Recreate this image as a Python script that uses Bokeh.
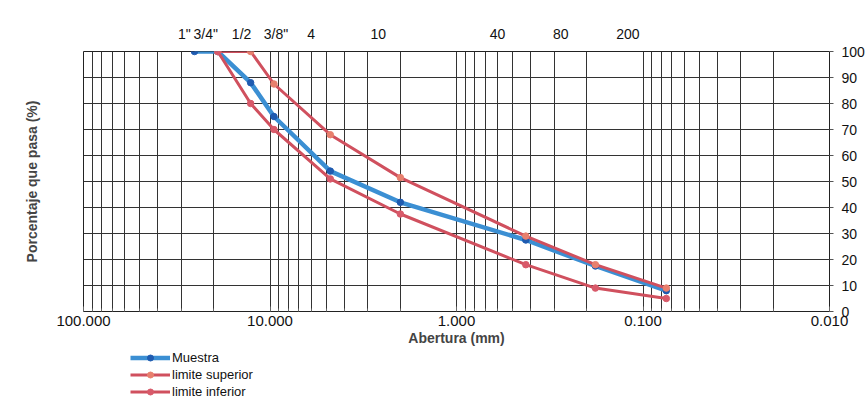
from bokeh.plotting import figure
from bokeh.layouts import column
from bokeh.models import (Range1d, LogAxis, LinearAxis, FixedTicker, PrintfTickFormatter,
                          CustomJSTickFormatter, Legend, LegendItem)
from bokeh.embed import file_html
from bokeh.resources import INLINE

# ---- data ----
aberturas = [25.4, 19.05, 12.7, 9.525, 4.75, 2.0, 0.425, 0.18, 0.075]
muestra = [100, 100, 88, 75, 54, 42, 27.5, 17.5, 8]
lim_x = [19.05, 12.7, 9.525, 4.75, 2.0, 0.425, 0.18, 0.075]
lim_sup = [100, 100, 87.5, 68, 51.5, 29, 18, 9]
lim_inf = [100, 80, 70, 51, 37.5, 18, 9, 5]

x_ticks = [100, 10, 1, 0.1, 0.01]
x_minor = [m * 10.0 ** e for e in range(-2, 2) for m in range(2, 10)]
y_ticks = [0, 10, 20, 30, 40, 50, 60, 70, 80, 90, 100]
tamiz_labels = ['1"', '3/4"', '1/2', '3/8"', '4', '10', '40', '80', '200']
tamiz_pos = [28.8, 22.1, 14.2, 9.29, 6.02, 2.63, 0.602, 0.276, 0.1205]
series_names = ["Muestra", "limite superior", "limite inferior"]

FONT = "Liberation Sans"
BLUE_LINE = "#3B8FD3"
BLUE_MARK = "#1F5BB0"
RED_LINE = "#D0505E"
RED_MARK_SUP = "#E8806E"
RED_MARK_INF = "#D85A6A"

W = 867
p = figure(width=W, height=348, x_axis_type="log",
           x_range=Range1d(100, 0.01), y_range=Range1d(0, 100),
           y_axis_location="right", output_backend="svg", toolbar_location=None,
           min_border_left=83, min_border_right=38, min_border_top=51,
           min_border_bottom=36)
p.background_fill_color = "white"
p.border_fill_color = "white"
p.outline_line_color = "#222222"
p.outline_line_width = 1

# bottom x axis
xt = FixedTicker(ticks=x_ticks, minor_ticks=x_minor)
xa = p.xaxis[0]
xa.ticker = xt
xa.formatter = PrintfTickFormatter(format="%.3f")
xa.axis_label = "Abertura (mm)"
xa.axis_label_text_font = FONT
xa.axis_label_text_font_style = "bold"
xa.axis_label_text_font_size = "14px"
xa.axis_label_standoff = 1
xa.major_label_text_font = FONT
xa.major_label_text_font_size = "15px"
xa.major_label_text_color = "#111111"
xa.major_label_standoff = 4
xa.axis_line_color = None
xa.major_tick_in = 5
xa.major_tick_out = 0
xa.minor_tick_in = 3
xa.minor_tick_out = 0
xa.major_tick_line_color = "#666666"
xa.minor_tick_line_color = "#666666"

# right y axis
ya = p.yaxis[0]
ya.ticker = FixedTicker(ticks=y_ticks)
ya.major_label_text_font = FONT
ya.major_label_text_font_size = "14px"
ya.major_label_text_color = "#111111"
ya.major_label_standoff = 8
ya.major_tick_out = 4
ya.major_tick_in = 0
ya.major_tick_line_color = "#555555"
ya.axis_line_color = None
ya.minor_tick_line_color = None

# grids
p.xgrid.ticker = xt
p.xgrid.grid_line_color = "#333333"
p.xgrid.grid_line_width = 1
p.xgrid.minor_grid_line_color = "#333333"
p.xgrid.minor_grid_line_width = 1
p.ygrid.ticker = FixedTicker(ticks=y_ticks)
p.ygrid.grid_line_color = "#333333"
p.ygrid.grid_line_width = 1

# top axis with sieve labels
top = LogAxis(ticker=FixedTicker(ticks=tamiz_pos),
              formatter=CustomJSTickFormatter(args=dict(pos=tamiz_pos, labels=tamiz_labels), code="""
                  let best = 0, bd = 1e9;
                  for (let i = 0; i < pos.length; i++) {
                    const d = Math.abs(Math.log(pos[i]) - Math.log(tick));
                    if (d < bd) { bd = d; best = i; }
                  }
                  return labels[best];
              """))
top.axis_line_color = None
top.major_tick_line_color = None
top.minor_tick_line_color = None
top.major_tick_out = 0
top.major_tick_in = 0
top.major_label_standoff = 10
top.major_label_text_font = FONT
top.major_label_text_font_size = "14px"
top.major_label_text_color = "#111111"
p.add_layout(top, "above")

# left axis carrying only the title
left = LinearAxis(ticker=FixedTicker(ticks=[]), axis_label="Porcentaje que pasa (%)")
left.axis_line_color = None
left.major_tick_line_color = None
left.minor_tick_line_color = None
left.axis_label_text_font = FONT
left.axis_label_text_font_style = "bold"
left.axis_label_text_font_size = "14px"
left.axis_label_standoff = 44
p.add_layout(left, "left")

# series
styles = [
    dict(line_color=BLUE_LINE, line_width=4.5, mark=BLUE_MARK),
    dict(line_color=RED_LINE, line_width=3, mark=RED_MARK_SUP),
    dict(line_color=RED_LINE, line_width=3, mark=RED_MARK_INF),
]
data = [(aberturas, muestra), (lim_x, lim_sup), (lim_x, lim_inf)]
for (xs, ys), st in zip(data, styles):
    p.line(xs, ys, line_color=st["line_color"], line_width=st["line_width"])
    p.scatter(xs, ys, marker="circle", size=6.5, fill_color=st["mark"], line_color=st["mark"])

# legend strip below the chart (swatch renderers hold no visible data)
nan = float("nan")
q = figure(width=W, height=51, x_range=Range1d(0, 1), y_range=Range1d(0, 1),
           x_axis_location=None, y_axis_location=None, output_backend="svg",
           toolbar_location=None, min_border=0)
q.outline_line_color = None
q.grid.visible = False
q.background_fill_color = "white"
q.border_fill_color = "white"
items = []
for name, st in zip(series_names, styles):
    lr = q.line([nan], [nan], line_color=st["line_color"], line_width=st["line_width"])
    sr = q.scatter([nan], [nan], marker="circle", size=6.5, fill_color=st["mark"], line_color=st["mark"])
    items.append(LegendItem(label=name, renderers=[lr, sr]))
legend = Legend(items=items, location=(47, 0))
legend.background_fill_alpha = 0
legend.border_line_color = None
legend.padding = 0
legend.margin = 0
legend.spacing = 2
legend.glyph_width = 40
legend.glyph_height = 15
legend.label_height = 15
legend.label_standoff = 2
legend.label_text_font = FONT
legend.label_text_font_size = "13px"
legend.label_text_color = "#111111"
q.add_layout(legend)

layout = column(p, q, spacing=0)
open("out.html", "w").write(file_html(layout, INLINE))
